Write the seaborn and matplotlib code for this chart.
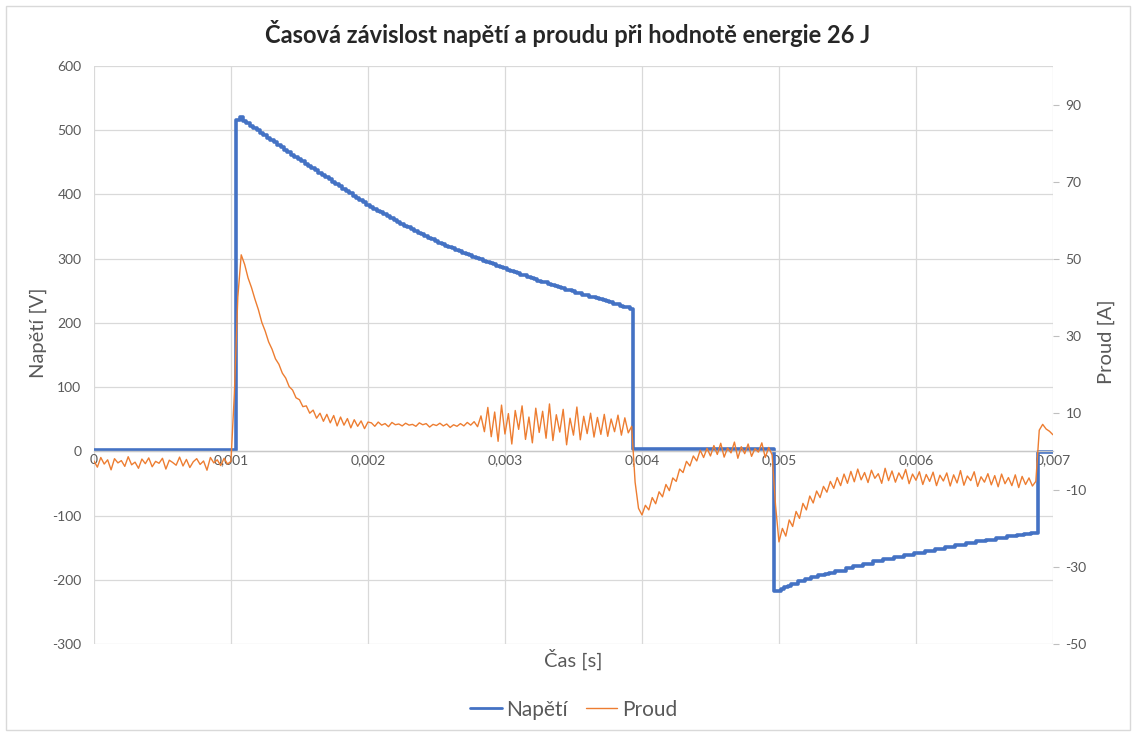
import numpy as np
import pandas as pd
import matplotlib.pyplot as plt
import seaborn as sns
from matplotlib.patches import Rectangle

# vzorky po 25 us, 0 .. 7 ms
time_s = np.linspace(0, 0.007, 281)

napeti_v = [
    2, 2, 2, 2, 2, 2, 2, 2, 2, 2,
    2, 2, 2, 2, 2, 2, 2, 2, 2, 2,
    2, 2, 2, 2, 2, 2, 2, 2, 2, 2,
    2, 2, 2, 2, 2, 2, 2, 2, 2, 2,
    2, 2, 516, 521,
    514, 511, 507, 503, 500, 496, 492,
    488, 485, 481, 477, 474, 470, 466, 462, 459, 455,
    452, 448, 445, 441, 438, 434, 431, 427, 424, 420,
    416, 413, 409, 406, 402, 398, 395, 391, 388, 384,
    381, 378, 375, 372, 369, 366, 363, 360, 357, 354,
    351, 349, 346, 343, 340, 338, 335, 332, 330, 327,
    325, 323, 320, 318, 316, 314, 312, 309, 307, 305,
    303, 301, 299, 297, 295, 293, 291, 289, 287, 285,
    283, 281, 279, 277, 275, 274, 272, 270, 268, 266,
    264, 263, 261, 259, 258, 256, 254, 252, 251, 249,
    247, 246, 244, 243, 241, 240, 238, 237, 235, 234,
    232, 230, 229, 227, 225, 224, 222,
    4, 4, 4, 4, 4, 4, 4, 4, 4, 4,
    4, 4, 4, 4, 4, 4, 4, 4, 4, 4,
    4, 4, 4, 4, 4, 4, 4, 4, 4, 4,
    4, 4, 4, 4, 4, 4, 4, 4, 4, 4,
    4,
    -218, -217, -214, -211, -209, -206,
    -206, -202, -202, -199, -199, -196, -196, -193, -193, -191,
    -189, -189, -186, -186, -186, -182,
    -182, -179, -179, -179, -175, -175, -175, -171, -171, -171,
    -167, -167, -167, -164, -164, -164, -161, -161, -161, -158,
    -158, -158, -155, -155, -155, -152, -152, -152, -149, -149,
    -149, -146, -146, -146, -143, -143, -143, -140, -140, -140,
    -138, -138, -138, -135, -135, -135, -132, -132, -132, -130,
    -130, -128, -128, -127, -127,
    -1, -1, -1, -1, -1,
]

proud_a = [
    -2.5, -4.1, -1.6, -3.3, -2.2, -4.8, -1.9, -3.0, -2.4, -3.9,
    -1.4, -3.5, -2.8, -4.4, -2.0, -3.2, -1.7, -4.0, -2.6, -3.1,
    -1.8, -4.6, -2.3, -2.9, -3.6, -1.5, -3.8, -2.1, -4.2, -2.7,
    -1.9, -3.4, -2.5, -4.9, -1.6, -3.0, -2.2, -3.7, -1.8, -3.3,
    -2.6, 15.0, 40.0, 51.0,
    48.5, 45.0, 42.5, 39.5, 36.8, 33.5, 31.2,
    28.4, 26.5, 24.0, 22.6, 20.3, 19.0, 16.8, 15.9, 13.9, 13.4,
    11.6, 11.8, 9.9, 10.7, 8.6, 9.9, 7.8, 9.6, 7.4, 9.3,
    6.6, 8.9, 6.8, 8.5, 6.1, 8.2, 6.5, 7.9, 5.9, 7.6,
    7.4, 6.5, 7.6, 6.8, 7.2, 6.4, 7.5, 6.9, 7.1, 6.6,
    7.3, 6.8, 7.0, 6.5, 7.4, 6.9, 7.2, 6.3, 7.0, 6.7,
    7.3, 6.6, 7.1, 6.2, 6.9, 6.5, 7.2, 6.6, 7.5, 6.8,
    7.7, 6.4,
    9.2, 5.1, 11.4, 3.8, 10.2, 2.6, 12.0, 4.5, 9.8, 1.9,
    10.6, 5.7, 11.8, 3.1, 8.9, 2.2, 11.2, 4.9, 10.4, 3.4,
    12.3, 2.8, 9.5, 5.0, 10.9, 1.7, 8.6, 4.2, 11.5, 3.0,
    9.1, 4.6, 9.9, 3.7, 8.8, 4.4, 9.6, 3.9, 8.4, 5.1,
    9.4, 4.2, 8.7, 4.8, 6.5,
    -8.0, -14.8, -16.5, -14.0, -15.2, -12.0, -13.6, -10.5, -11.8, -8.6,
    -10.2, -6.9, -7.8, -4.6, -5.5, -2.6, -3.8, -1.2, -2.5, 0.3,
    -1.6, 0.8,
    -1.2, 1.5, -0.8, 2.1, -1.5, 0.9, -0.4, 2.4, -1.8, 1.2,
    -0.6, 1.9, -1.3, 0.7, -0.2, 2.2, -1.6, 1.0, -0.9,
    -14.0, -23.5, -20.0, -22.0, -17.8, -19.5, -15.6, -17.4, -13.5, -15.2,
    -11.6, -13.4, -10.3, -12.0, -9.1, -10.6, -7.8, -9.6, -6.8, -8.9,
    -5.9, -8.3,
    -5.2, -7.9, -4.6, -7.4, -5.5, -8.1, -4.9, -7.0, -5.8, -8.3,
    -4.4, -7.6, -5.1, -8.0, -5.6, -7.2, -4.7, -8.4, -5.9, -7.5,
    -5.3, -8.6, -6.0, -7.8, -5.4, -8.9, -6.2, -7.7, -5.6, -9.0,
    -6.1, -8.2, -5.0, -8.8, -6.4, -7.6, -5.3, -9.1, -6.6, -8.0,
    -5.8, -8.7, -6.3, -9.2, -5.9, -8.4, -6.8, -8.9, -6.1, -9.4,
    -6.5, -8.6, -6.9, -9.0, -7.8,
    5.5, 7.0, 5.8, 5.2, 4.3,
]

x_ticks = [0, 0.001, 0.002, 0.003, 0.004, 0.005, 0.006, 0.007]
x_labels = ["0", "0,001", "0,002", "0,003", "0,004", "0,005", "0,006", "0,007"]
v_ticks = [-300, -200, -100, 0, 100, 200, 300, 400, 500, 600]
a_ticks = [-50, -30, -10, 10, 30, 50, 70, 90]

df = pd.DataFrame({"cas": time_s, "napeti": napeti_v, "proud": proud_a})

sns.set_style("white")
plt.rcParams["font.family"] = ["Lato", "DejaVu Sans"]
plt.rcParams["axes.unicode_minus"] = False

grey = "#595959"
blue = "#4472C4"
orange = "#ED7D31"

fig = plt.figure(figsize=(11.36, 7.36), dpi=100)
ax = fig.add_axes([0.0827, 0.125, 0.8442, 0.7853])
ax2 = ax.twinx()

sns.lineplot(data=df, x="cas", y="napeti", ax=ax, color=blue, linewidth=2.6,
             drawstyle="steps-mid", estimator=None, label="Napětí", legend=False)
sns.lineplot(data=df, x="cas", y="proud", ax=ax2, color=orange, linewidth=1.0,
             estimator=None, label="Proud", legend=False)

ax.set_xlim(0, 0.007)
ax.set_ylim(-300, 600)
ax2.set_ylim(-50, 100)
ax.set_xticks(x_ticks)
ax.set_xticklabels(x_labels)
ax.set_yticks(v_ticks)
ax2.set_yticks(a_ticks)

ax.grid(True, color="#d9d9d9", linewidth=0.9)
ax.set_axisbelow(True)
ax2.grid(False)

for s in ["top", "left", "right"]:
    ax.spines[s].set_visible(False)
ax.spines["bottom"].set_position(("data", 0))
ax.spines["bottom"].set_color("#c8c8c8")
ax.spines["bottom"].set_linewidth(1)
for s in ax2.spines.values():
    s.set_visible(False)

ax.tick_params(axis="x", length=0, pad=2, labelsize=10, labelcolor=grey)
ax.tick_params(axis="y", length=0, pad=9, labelsize=10, labelcolor=grey)
ax2.tick_params(axis="y", length=4, width=0.8, color="#bfbfbf", pad=5,
                labelsize=10, labelcolor=grey)

ax.set_xlabel("Čas [s]", fontsize=14.5, color=grey)
ax.xaxis.set_label_coords(0.5, -0.008)
ax.set_ylabel("Napětí [V]", fontsize=14.5, color=grey)
ax.yaxis.set_label_coords(-0.049, 0.538)
ax2.set_ylabel("Proud [A]", fontsize=14.5, color=grey)
ax2.yaxis.set_label_coords(1.047, 0.523)

fig.suptitle("Časová závislost napětí a proudu při hodnotě energie 26 J",
             fontsize=17, fontweight="bold", y=0.955, va="center")

h1, l1 = ax.get_legend_handles_labels()
h2, l2 = ax2.get_legend_handles_labels()
leg = fig.legend(h1 + h2, l1 + l2, loc="center", bbox_to_anchor=(0.505, 0.036), ncol=2,
                 frameon=False, fontsize=15, labelcolor=grey, handlelength=1.5,
                 handletextpad=0.2, columnspacing=0.9)
leg.get_lines()[0].set_linewidth(2)

fig.patches.append(Rectangle((0.005, 0.008), 0.99, 0.984, transform=fig.transFigure,
                             fill=False, edgecolor="#d9d9d9", linewidth=1))

fig.savefig("out.png", dpi=100)
